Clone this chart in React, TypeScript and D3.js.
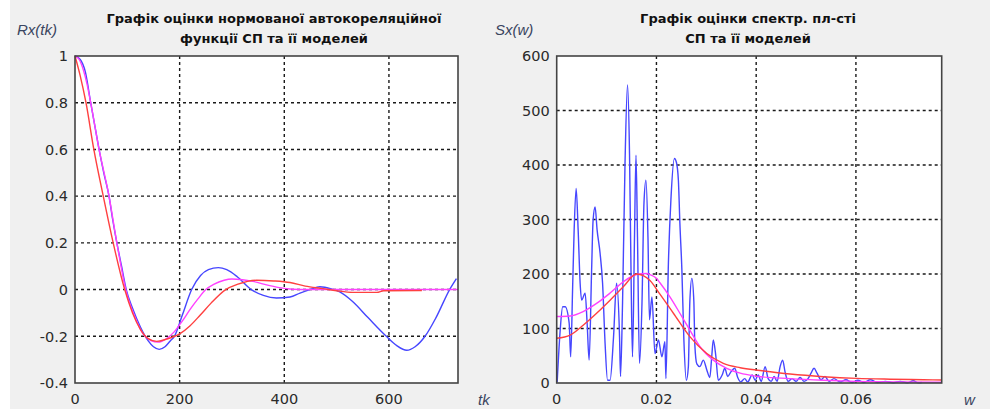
import React from "react";
import * as d3 from "d3";

// ---------- Data: normalized ACF (left) ----------
const acfBlueLag = [0, 10, 20, 30, 38, 46, 55, 65, 72, 80, 89, 98, 110, 125, 140, 150, 161, 172, 182, 190, 205, 223, 240, 255, 274, 290, 310, 337, 360, 385, 411, 430, 449, 468, 490, 506, 530, 560, 595, 615, 634, 650, 669, 690, 716, 729];
const acfBlueVal = [1, 0.985, 0.93, 0.8, 0.7, 0.6, 0.5, 0.4, 0.3, 0.2, 0.1, 0, -0.08, -0.16, -0.22, -0.245, -0.256, -0.245, -0.22, -0.2, -0.11, 0, 0.06, 0.085, 0.094, 0.085, 0.055, 0, -0.025, -0.036, -0.032, -0.015, 0, 0.012, 0.003, -0.01, -0.05, -0.12, -0.2, -0.24, -0.26, -0.245, -0.2, -0.12, 0, 0.047];

const acfMagLag = [0, 8, 16, 23, 30, 46, 65, 80, 97, 115, 130, 145, 159, 175, 190, 205, 220, 235, 250, 265, 285, 300, 320, 340, 370, 400, 430, 732];
const acfMagVal = [1, 0.985, 0.94, 0.88, 0.8, 0.6, 0.4, 0.2, 0, -0.12, -0.19, -0.218, -0.225, -0.21, -0.18, -0.135, -0.085, -0.04, 0, 0.022, 0.04, 0.045, 0.042, 0.035, 0.018, 0.005, 0, 0];

const acfRedLag = [0, 10, 21, 36, 54, 73, 95, 110, 125, 140, 156, 175, 200, 220, 239, 260, 288, 310, 347, 380, 411, 440, 474, 500, 531, 577, 590, 663];
const acfRedVal = [1, 0.915, 0.8, 0.6, 0.4, 0.2, 0, -0.1, -0.17, -0.21, -0.222, -0.212, -0.19, -0.155, -0.11, -0.058, 0, 0.022, 0.04, 0.037, 0.03, 0.015, 0.004, -0.005, -0.012, -0.012, -0.005, -0.004];

const acfXTicks = [0, 200, 400, 600];
const acfYTicks = [-0.4, -0.2, 0, 0.2, 0.4, 0.6, 0.8, 1];

// ---------- Data: spectral density (right) ----------
const psdBlueW = [0.0001, 0.0007, 0.0012, 0.0017, 0.0025, 0.0028, 0.0032, 0.0035, 0.0039, 0.0043, 0.0047, 0.005, 0.0057, 0.0061, 0.0065, 0.007, 0.0073, 0.0077, 0.0081, 0.0087, 0.0092, 0.0097, 0.0102, 0.0107, 0.0114, 0.012, 0.0126, 0.0128, 0.0132, 0.0137, 0.0142, 0.0146, 0.0149, 0.0152, 0.0156, 0.0159, 0.0162, 0.0166, 0.0171, 0.0175, 0.0179, 0.0183, 0.0186, 0.0191, 0.0197, 0.0204, 0.0211, 0.0217, 0.0219, 0.0224, 0.0229, 0.0236, 0.024, 0.0244, 0.0247, 0.0251, 0.0255, 0.026, 0.0264, 0.0267, 0.0271, 0.0275, 0.0277, 0.0281, 0.0287, 0.0294, 0.0301, 0.0307, 0.0311, 0.0314, 0.0319, 0.0324, 0.0332, 0.0337, 0.0343, 0.0349, 0.0357, 0.0363, 0.0369, 0.0377, 0.0383, 0.0392, 0.0398, 0.0404, 0.041, 0.0418, 0.0424, 0.043, 0.0436, 0.0442, 0.0448, 0.0453, 0.0458, 0.0464, 0.0472, 0.048, 0.0488, 0.0496, 0.0504, 0.051, 0.0516, 0.0522, 0.053, 0.0538, 0.0546, 0.0556, 0.0568, 0.058, 0.0592, 0.0604, 0.0616, 0.0629, 0.0643, 0.0659, 0.0675, 0.0689, 0.0703, 0.0715, 0.0725, 0.0732];
const psdBlueS = [2, 97, 140, 140, 110, 48, 177, 281, 357, 281, 183, 152, 165, 110, 42, 207, 299, 323, 281, 238, 183, 73, 5, 5, 85, 183, 85, 12, 146, 403, 547, 421, 207, 48, 268, 418, 268, 36, 146, 330, 372, 268, 116, 158, 54, 79, 48, 76, 8, 220, 336, 412, 405, 372, 293, 208, 80, 5, 30, 150, 192, 150, 70, 35, 30, 42, 24, 10, 50, 79, 50, 5, 15, 27, 12, 20, 27, 10, 2, 8, 2, 15, 5, 15, 3, 30, 8, 3, 12, 3, 30, 42, 20, 3, 8, 3, 10, 3, 8, 18, 27, 18, 6, 12, 3, 8, 2, 6, 1, 5, 1, 6, 1, 3, 0.5, 3, 0.5, 4, 0.5, 1];

const psdRedW = [0, 0.0027, 0.0053, 0.008, 0.0107, 0.0134, 0.016, 0.0187, 0.0207, 0.0234, 0.0267, 0.0301, 0.0334, 0.0368, 0.0408, 0.0468, 0.0535, 0.0602, 0.0669, 0.0735, 0.0772];
const psdRedS = [82, 88, 106, 128, 152, 177, 200, 188, 163, 128, 85, 54, 36, 28, 23, 16.5, 11.6, 8.5, 7, 6, 5.5];

const psdMagW = [0, 0.0027, 0.0053, 0.008, 0.0107, 0.0134, 0.016, 0.018, 0.0187, 0.02, 0.0207, 0.0227, 0.0247, 0.0267, 0.0287, 0.0314, 0.0341, 0.0368, 0.0401, 0.0468, 0.0535, 0.06, 0.067, 0.0772];
const psdMagS = [122, 123, 131, 146, 165, 186, 199, 201, 199, 192, 184, 158, 128, 97, 67, 42, 27, 18, 12.5, 8, 5, 3, 2, 1.5];

const psdXTicks = [0, 0.02, 0.04, 0.06];
const psdYTicks = [0, 100, 200, 300, 400, 500, 600];

const titleLeft = ["Графік оцінки нормованої автокореляційної", "функції СП та її моделей"];
const titleRight = ["Графік оцінки спектр. пл-сті", "СП та її моделей"];

const BLUE = "#4646ff";
const RED = "#ff4040";
const MAG = "#ff40ff";
const TICK_FONT = "'DejaVu Sans', sans-serif";

type PanelProps = {
  x0: number; x1: number; y0: number; y1: number;
  xDomain: [number, number]; yDomain: [number, number];
  xTicks: number[]; yTicks: number[];
  series: { xs: number[]; ys: number[]; color: string }[];
  title: string[]; titleX: number;
  yLabel: string; yLabelX: number;
  xLabel: string; xLabelX: number;
};

function Panel(p: PanelProps) {
  const xs = d3.scaleLinear().domain(p.xDomain).range([p.x0, p.x1]);
  const ys = d3.scaleLinear().domain(p.yDomain).range([p.y1, p.y0]);
  const line = d3.line<[number, number]>().x(d => xs(d[0])).y(d => ys(d[1])).curve(d3.curveMonotoneX);
  return (
    <g>
      <rect x={p.x0} y={p.y0} width={p.x1 - p.x0} height={p.y1 - p.y0} fill="#fff" />
      {p.xTicks.filter(t => t > p.xDomain[0]).map(t => (
        <line key={"gx" + t} x1={xs(t)} x2={xs(t)} y1={p.y0} y2={p.y1} stroke="#1a1a1a" strokeWidth={1.4} strokeDasharray="3,3" />
      ))}
      {p.yTicks.filter(t => t > p.yDomain[0] && t < p.yDomain[1]).map(t => (
        <line key={"gy" + t} x1={p.x0} x2={p.x1} y1={ys(t)} y2={ys(t)} stroke="#1a1a1a" strokeWidth={1.4} strokeDasharray="3,3" />
      ))}
      {p.series.map((s, i) => (
        <path key={"s" + i} d={line(s.xs.map((x, j) => [x, s.ys[j]] as [number, number])) || ""} fill="none" stroke={s.color} strokeWidth={1.4} strokeLinejoin="round" />
      ))}
      <rect x={p.x0} y={p.y0} width={p.x1 - p.x0} height={p.y1 - p.y0} fill="none" stroke="#444" strokeWidth={1.6} />
      {p.yTicks.map(t => (
        <text key={"ty" + t} x={p.x0 - 7} y={ys(t)} dy="0.36em" textAnchor="end" fontFamily={TICK_FONT} fontSize={14.5} fill="#2a2a2a">{String(t)}</text>
      ))}
      {p.xTicks.map(t => (
        <text key={"tx" + t} x={xs(t)} y={p.y1 + 21} textAnchor="middle" fontFamily={TICK_FONT} fontSize={14.5} fill="#2a2a2a">{String(t)}</text>
      ))}
      {p.title.map((t, i) => (
        <text key={"tt" + i} x={p.titleX} y={23 + i * 20} textAnchor="middle" fontFamily="'DejaVu Sans', sans-serif" fontWeight="bold" fontSize={13} fill="#111">{t}</text>
      ))}
      <text x={p.yLabelX} y={35} fontFamily="'Liberation Sans', Arial, sans-serif" fontStyle="italic" fontSize={15} fill="#3a4560">{p.yLabel}</text>
      <text x={p.xLabelX} y={405} fontFamily="'Liberation Sans', Arial, sans-serif" fontStyle="italic" fontSize={15} fill="#3a4560">{p.xLabel}</text>
    </g>
  );
}

export default function App() {
  return (
    <svg width={990} height={409} style={{ position: "absolute", left: 0, top: 0 }}>
      <rect x={0} y={0} width={990} height={409} fill="#fff" />
      <rect x={10} y={0} width={980} height={409} fill="#f0f0f0" />
      <Panel
        x0={75} x1={458} y0={56} y1={383}
        xDomain={[0, 732]} yDomain={[-0.4, 1]}
        xTicks={acfXTicks} yTicks={acfYTicks}
        series={[
          { xs: acfBlueLag, ys: acfBlueVal, color: BLUE },
          { xs: acfMagLag, ys: acfMagVal, color: MAG },
          { xs: acfRedLag, ys: acfRedVal, color: RED },
        ]}
        title={titleLeft} titleX={274}
        yLabel="Rx(tk)" yLabelX={17}
        xLabel="tk" xLabelX={478}
      />
      <Panel
        x0={556.7} x1={941.7} y0={56} y1={383}
        xDomain={[0, 0.0772]} yDomain={[0, 600]}
        xTicks={psdXTicks} yTicks={psdYTicks}
        series={[
          { xs: psdBlueW, ys: psdBlueS, color: BLUE },
          { xs: psdMagW, ys: psdMagS, color: MAG },
          { xs: psdRedW, ys: psdRedS, color: RED },
        ]}
        title={titleRight} titleX={748}
        yLabel="Sx(w)" yLabelX={495}
        xLabel="w" xLabelX={964}
      />
    </svg>
  );
}
